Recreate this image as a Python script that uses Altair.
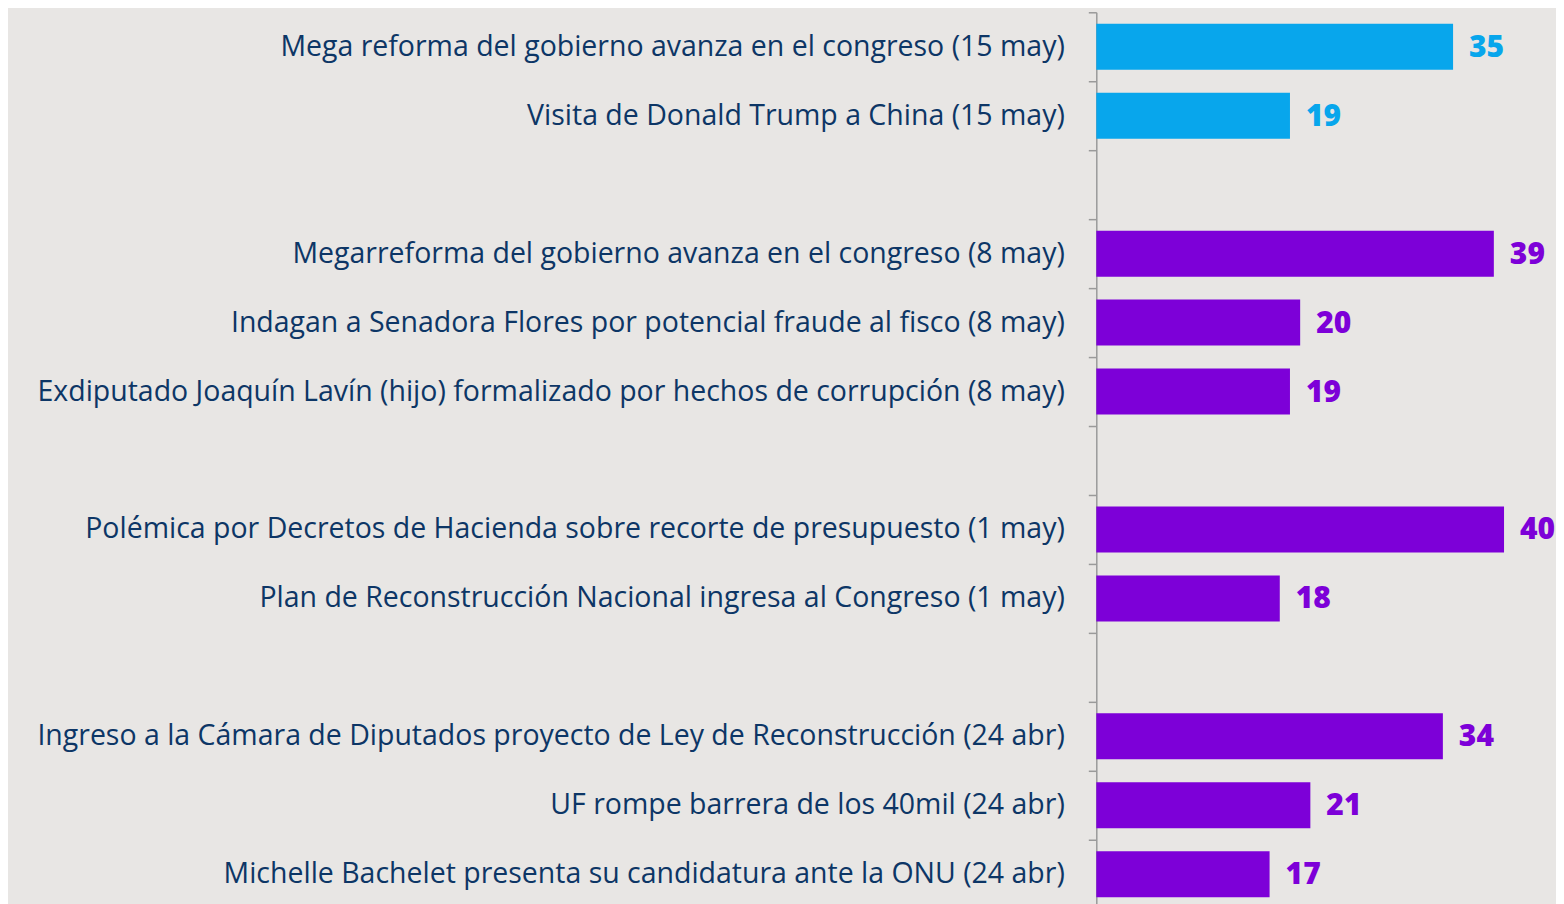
import altair as alt
import pandas as pd

categories = [
    "Mega reforma del gobierno avanza en el congreso (15 may)",
    "Visita de Donald Trump a China (15 may)",
    "_gap1",
    "Megarreforma del gobierno avanza en el congreso (8 may)",
    "Indagan a Senadora Flores por potencial fraude al fisco (8 may)",
    "Exdiputado Joaquín Lavín (hijo) formalizado por hechos de corrupción (8 may)",
    "_gap2",
    "Polémica por Decretos de Hacienda sobre recorte de presupuesto (1 may)",
    "Plan de Reconstrucción Nacional ingresa al Congreso (1 may)",
    "_gap3",
    "Ingreso a la Cámara de Diputados proyecto de Ley de Reconstrucción (24 abr)",
    "UF rompe barrera de los 40mil (24 abr)",
    "Michelle Bachelet presenta su candidatura ante la ONU (24 abr)",
]
values = [35, 19, None, 39, 20, 19, None, 40, 18, None, 34, 21, 17]
groups = ["current", "current", "gap", "past", "past", "past", "gap",
          "past", "past", "gap", "past", "past", "past"]

df = pd.DataFrame({"cat": categories, "value": values, "group": groups})

BLUE = "#08a6ec"
PURPLE = "#7d00d8"
NAVY = "#0d3666"

color_scale = alt.Scale(domain=["current", "past"], range=[BLUE, PURPLE])
y_scale = alt.Scale(domain=categories, paddingInner=0, paddingOuter=0)

y_enc = alt.Y(
    "cat:N",
    sort=categories,
    title=None,
    scale=y_scale,
    axis=alt.Axis(
        bandPosition=0,
        labelExpr="indexof(datum.label, '_gap') == 0 ? '' : datum.label",
        labelFont="Open Sans",
        labelFontSize=28.5,
        labelColor=NAVY,
        labelPadding=24,
        labelLimit=1200,
        tickSize=8,
        tickColor="#9a9a9a",
        tickWidth=1.5,
        domainColor="#9a9a9a",
        domainWidth=1.5,
        minExtent=1089,
        maxExtent=1089,
    ),
)

x_enc = alt.X("value:Q", scale=alt.Scale(domain=[0, 45], nice=False), axis=None)

base = alt.Chart(df).transform_filter("datum.value != null")

bars = base.mark_bar(height={"band": 0.667}).encode(
    y=y_enc,
    x=x_enc,
    color=alt.Color("group:N", scale=color_scale, legend=None),
)

labels = base.mark_text(
    align="left", baseline="middle", dx=16, dy=1,
    font="Open Sans", fontSize=30, fontWeight=800,
).encode(
    y=alt.Y("cat:N", sort=categories, scale=y_scale),
    x=x_enc,
    text=alt.Text("value:Q"),
    color=alt.Color("group:N", scale=color_scale, legend=None),
)

chart = (
    alt.layer(bars, labels)
    .properties(width=459, height=897, padding={"top": 3, "left": 0, "right": 0, "bottom": 0},
                background="#e8e6e4")
    .configure_view(stroke=None)
)

chart.save("out.html", embed_options={"renderer": "svg", "actions": False})
